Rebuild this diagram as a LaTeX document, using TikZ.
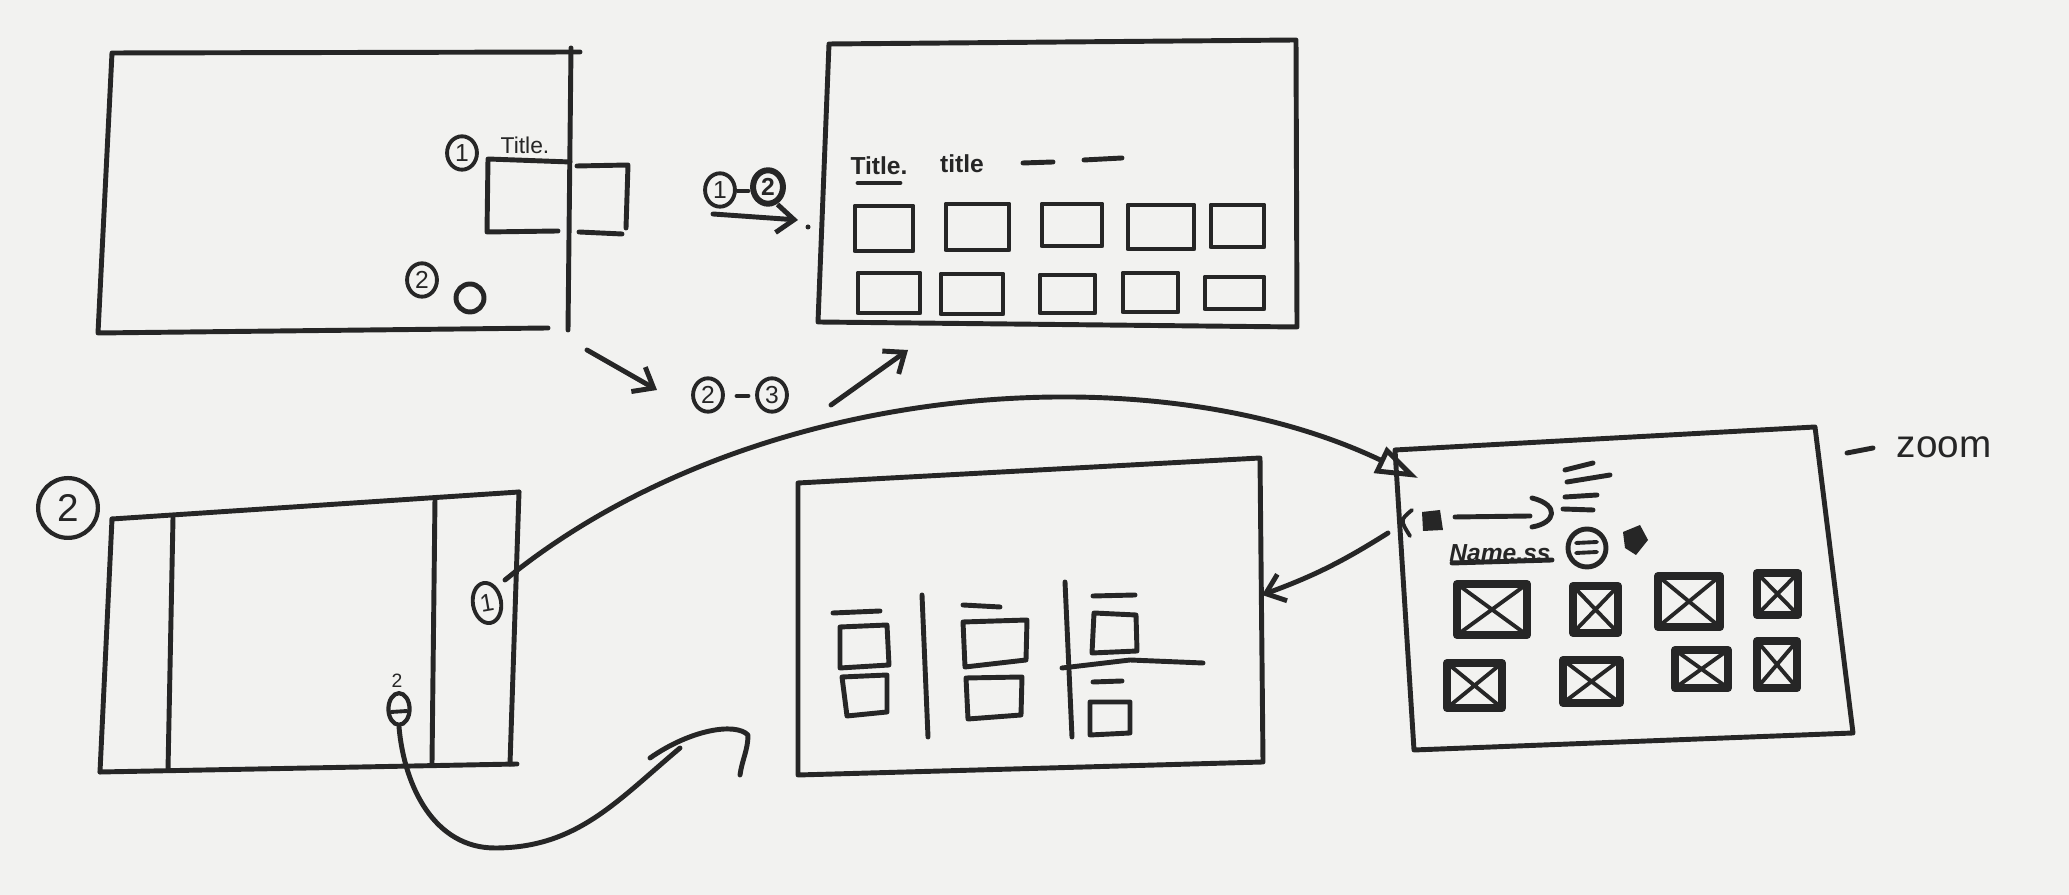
\documentclass[tikz,border=0pt]{standalone}
\usepackage{fontspec}
\setmainfont{Liberation Sans}
\usetikzlibrary{arrows.meta,shapes.geometric}
\definecolor{ink}{HTML}{262626}
\definecolor{paper}{HTML}{F2F2F0}
\tikzset{
 pen/.style={draw=ink,line width=1.4pt,line cap=round,line join=round},
 thinpen/.style={draw=ink,line width=1.1pt,line cap=round,line join=round},
 fatpen/.style={draw=ink,line width=2.3pt,line cap=round,line join=round},
 cnum/.style={draw=ink,ellipse,line width=1.1pt,inner sep=0.4pt,minimum width=8.5pt,minimum height=9.5pt,font=\fontsize{7}{8}\selectfont,text=ink},
 hand/.style={font=\fontsize{6.5}{7}\selectfont,text=ink,inner sep=0pt},
 barb/.style={-{Straight Barb[length=5pt,width=8pt,line width=1.4pt]}},
 tri/.style={-{Triangle[open,length=12pt,width=8pt,line width=1.4pt]}},
}
\begin{document}
\begin{tikzpicture}[x=0.01cm,y=-0.01cm]
\fill[paper] (0,0) rectangle (2069,895);
\useasboundingbox (0,0) rectangle (2069,895);

% ---------- screen 1 (top left)
\draw[pen] (580,52) -- (112,53) -- (98,333) -- (548,328);
\draw[pen] (571,48) -- (568,330);
\draw[pen] (570,162) -- (488,159) -- (487,232) -- (558,231);
\draw[pen] (577,166) -- (628,165) -- (626,228);
\draw[pen] (579,232) -- (622,234);
\node[cnum] (s1n1) at (462,153) {1};
\node[hand] (s1t) at (525,145) {Title.};
\node[cnum] (s1n2) at (422,280) {2};
\draw[pen] (470,298) circle[radius=14];
\coordinate (s1out) at (587,350);

% ---------- screen 2 (top middle)
\draw[pen] (829,44) -- (1296,40) -- (1297,327) -- (818,322) -- cycle;
\node[hand,font=\fontsize{7}{8}\selectfont\bfseries] (s2t1) at (879,166) {Title.};
\draw[pen] (858,183) -- (900,183);
\node[hand,font=\fontsize{7}{8}\selectfont\bfseries] (s2t2) at (962,164) {title};
\draw[pen] (1023,163) -- (1053,162);
\draw[pen] (1084,160) -- (1122,158);
\foreach \a/\b/\c/\d in {855/206/913/251, 946/204/1009/250, 1042/204/1102/246, 1128/205/1194/249, 1211/205/1264/247}
  \draw[pen] (\a,\b) rectangle (\c,\d);
\foreach \a/\b/\c/\d in {858/273/920/313, 941/274/1003/314, 1040/275/1095/313, 1123/273/1178/312, 1205/277/1264/309}
  \draw[pen] (\a,\b) rectangle (\c,\d);
\coordinate (s2inA) at (798,220);
\coordinate (s2inB) at (908,350);

% label 1-2 and arrow
\node[cnum] (l12a) at (720,190) {1};
\draw[pen] (738,191) -- (748,191);
\node[cnum,line width=1.7pt,font=\fontsize{7}{8}\selectfont\bfseries] (l12b) at (768,187) {2};
\coordinate (l12s) at (713,214);
\draw[pen,barb] (l12s) -- (s2inA);
\fill[ink] (808,227) circle[radius=2.5];

% label 2-3 and arrows
\coordinate (mid1) at (657,390);
\draw[pen,barb] (s1out) -- (mid1);
\node[cnum] (l23a) at (708,395) {2};
\draw[pen] (737,396) -- (748,396);
\node[cnum] (l23b) at (772,395) {3};
\coordinate (mid2) at (831,405);
\draw[pen,barb] (mid2) -- (s2inB);

% ---------- screen 3 (bottom left)
\node[draw=ink,ellipse,line width=1.2pt,minimum width=17pt,minimum height=17pt,inner sep=0pt,font=\fontsize{11}{12}\selectfont,text=ink] (big2) at (68,508) {2};
\draw[pen] (112,519) -- (519,492);
\draw[pen] (112,519) -- (100,772);
\draw[pen] (100,772) -- (517,764);
\draw[pen] (519,492) -- (510,764);
\draw[pen] (173,518) -- (168,770);
\draw[pen] (435,498) -- (432,763);
\node[cnum,rotate=10,minimum width=8pt,minimum height=11.5pt] (s3n1) at (487,603) {1};
\coordinate (s3a) at (505,580);
\node[hand,font=\fontsize{5.5}{6}\selectfont] (s3two) at (397,681) {2};
\node[draw=ink,ellipse,line width=1.2pt,minimum width=6pt,minimum height=9pt,inner sep=0pt] (bulb) at (399,709) {};
\draw[thinpen] (391,712) -- (407,711);

% ---------- screen 4 (bottom middle)
\draw[pen] (798,483) -- (1260,458) -- (1263,762) -- (798,775) -- cycle;
\draw[pen] (833,613) -- (880,611);
\draw[pen] (840,627) -- (887,625) -- (889,665) -- (840,668) -- cycle;
\draw[pen] (842,677) -- (887,675) -- (887,712) -- (847,716) -- cycle;
\draw[pen] (922,595) -- (928,737);
\draw[pen] (963,605) -- (1000,607);
\draw[pen] (963,622) -- (1027,620) -- (1026,660) -- (965,667) -- cycle;
\draw[pen] (966,678) -- (1022,677) -- (1021,715) -- (968,719) -- cycle;
\draw[pen] (1065,582) -- (1072,737);
\draw[pen] (1093,596) -- (1135,595);
\draw[pen] (1094,613) -- (1136,615) -- (1137,651) -- (1092,653) -- cycle;
\draw[pen] (1062,668) -- (1130,660) -- (1203,663);
\draw[pen] (1093,682) -- (1122,681);
\draw[pen] (1090,702) -- (1130,702) -- (1130,733) -- (1090,735) -- cycle;
\coordinate (s4in) at (1262,595);
\coordinate (s4low) at (680,748);

% ---------- screen 5 (right)
\draw[pen] (1395,450) -- (1815,427) -- (1853,733) -- (1414,750) -- cycle;
\draw[pen] (1847,453) -- (1873,448);
\node[hand,font=\fontsize{11}{12}\selectfont] (zoom) at (1944,447) {zoom};
\draw[thinpen] (1412,510) .. controls (1400,520) .. (1410,536);
\fill[ink] (1422,512) -- (1440,510) -- (1443,530) -- (1423,531) -- cycle;
\draw[pen] (1455,517) -- (1530,516);
\draw[pen] (1532,498) .. controls (1560,505) and (1556,523) .. (1532,527);
\draw[pen] (1565,470) -- (1593,463);
\draw[pen] (1567,482) -- (1610,475);
\draw[pen] (1565,497) -- (1597,495);
\draw[pen] (1563,509) -- (1593,510);
\node[hand,font=\fontsize{7}{8}\selectfont\bfseries\itshape] (nm) at (1500,553) {Name.ss};
\draw[pen] (1452,563) -- (1552,560);
\draw[pen] (1587,548) circle[radius=19];
\draw[thinpen] (1576,543) -- (1597,542);
\draw[thinpen] (1576,553) -- (1597,552);
\fill[ink] (1623,532) -- (1640,525) -- (1648,540) -- (1636,555) -- (1625,548) -- cycle;
\foreach \a/\b/\c/\d in {1457/584/1527/635, 1573/586/1618/633, 1658/576/1720/627, 1757/573/1798/615,
                         1447/663/1502/708, 1563/660/1620/703, 1675/650/1728/688, 1757/641/1797/688}{
  \draw[fatpen] (\a,\b) rectangle (\c,\d);
  \draw[thinpen] (\a,\b) -- (\c,\d) (\a,\d) -- (\c,\b);
}
\coordinate (s5in) at (1418,478);
\coordinate (s5out) at (1388,533);

% ---------- connectors
\draw[pen,tri] (s3a) .. controls (750,380) and (1150,350) .. (s5in);
\draw[pen,barb] (s5out) to[bend left=6] (s4in);
\draw[pen] (bulb.south) to[out=-85,in=180] (495,848) to[out=0,in=-140] (s4low);
\draw[pen] (650,758) .. controls (690,730) and (735,722) .. (748,735) .. controls (748,750) and (742,760) .. (740,775);
\end{tikzpicture}
\end{document}
